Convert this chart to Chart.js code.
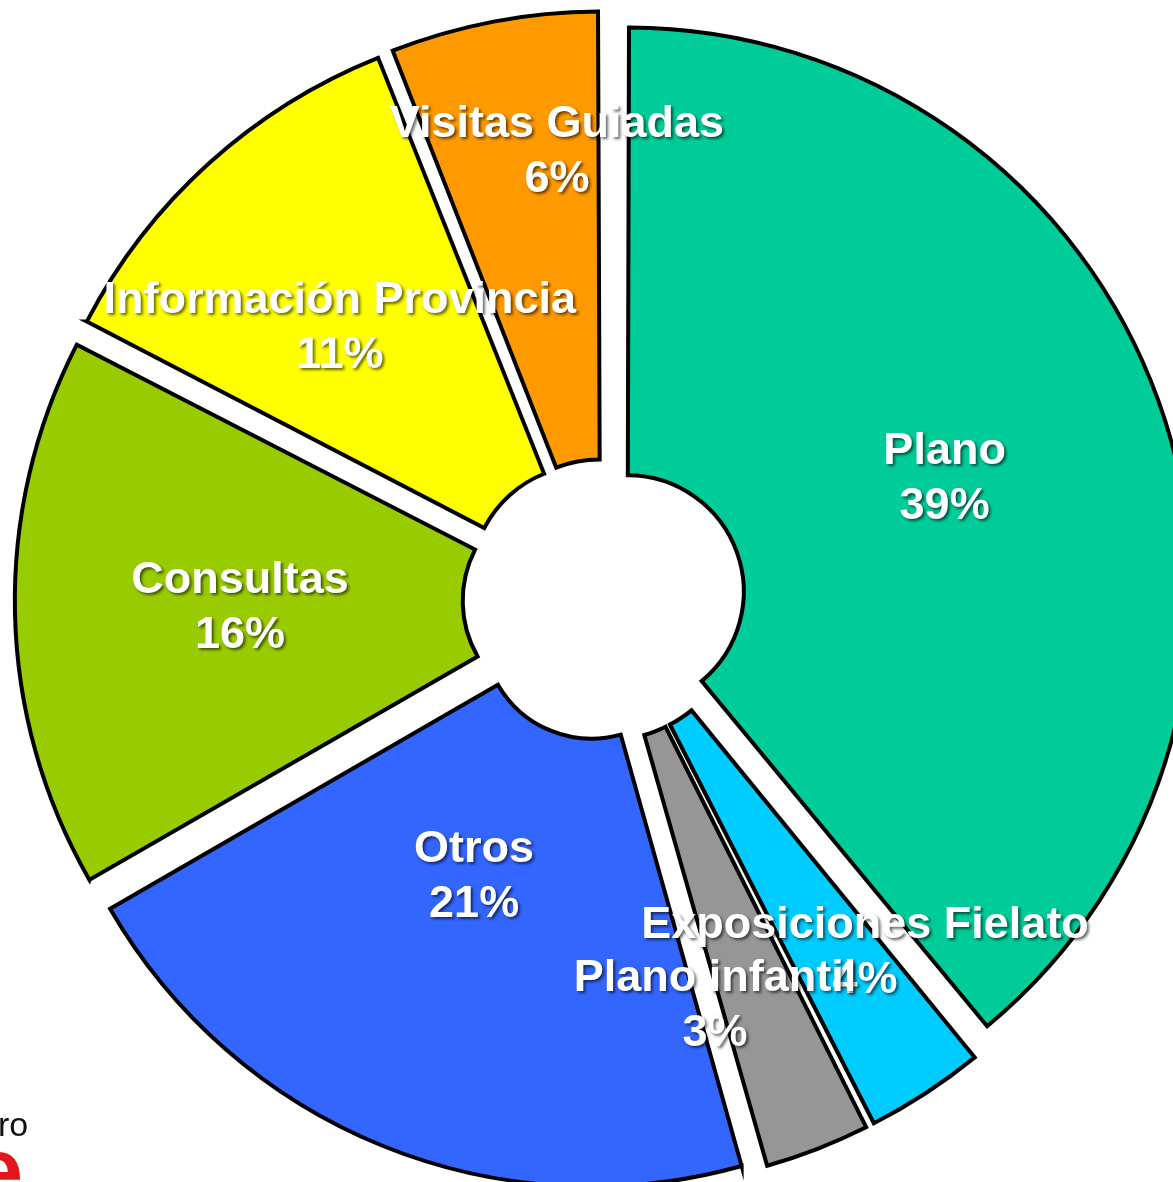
<!DOCTYPE html>
<html lang="es">
<head>
<meta charset="utf-8">
<title>Consultas por tipo</title>
<script src="https://cdn.jsdelivr.net/npm/chart.js@4.4.1/dist/chart.umd.min.js"></script>
<style>
    html, body { margin: 0; padding: 0; background: #fff; overflow: hidden; width: 1173px; height: 1182px; }
    #wrap { position: absolute; left: 0; top: 0; width: 1208px; height: 1200px; }
    .logo-small { position: absolute; left: -2px; top: 1105px; font: 34px "Liberation Sans", Arial, sans-serif; color: #111; }
    .logo-big { position: absolute; left: -28px; top: 1118px; font: bold 92px "Liberation Sans", Arial, sans-serif; color: #e3161e; }
</style>
</head>
<body>
<div id="wrap"><canvas id="tiposChart"></canvas></div>
<div class="logo-small">ro</div>
<div class="logo-big">e</div>
<script>
// datos (porcentaje de consultas)
const categorias = ['Plano', 'Exposiciones Fielato', 'Plano infantil', 'Otros', 'Consultas', 'Información Provincia', 'Visitas Guiadas'];
const valores = [39, 3.5, 3.1, 21, 15.9, 11.4, 6];
const colores = ['#00cc99', '#00ccff', '#969696', '#3366ff', '#99cc00', '#ffff00', '#ff9900'];

// separación de cada sector (Chart.js desplaza offset/4 px y además agranda el radio)
const separacion = [100, 76, 75, 132, 118, 101, 83];
// ajuste de posición de cada etiqueta respecto al centro del sector (px)
const ajusteEtiquetas = [[29, -10], [80, 75], [-9, 97], [-5, -30], [-33, 0], [-42, -27], [15, -123]];

document.addEventListener("DOMContentLoaded", function() {

    const total = valores.reduce((a, b) => a + b, 0);

    // plugin sencillo para escribir nombre y porcentaje dentro de cada sector
    const etiquetasPlugin = {
        id: 'etiquetas',
        afterDatasetsDraw(chart) {
            const ctx = chart.ctx;
            const meta = chart.getDatasetMeta(0);
            ctx.save();
            ctx.font = 'bold 45px "Liberation Sans", Arial, sans-serif';
            ctx.textAlign = 'center';
            ctx.textBaseline = 'middle';
            ctx.fillStyle = '#ffffff';
            ctx.shadowColor = 'rgba(0, 0, 0, 0.6)';
            ctx.shadowOffsetX = 2;
            ctx.shadowOffsetY = 2;
            ctx.shadowBlur = 3;
            meta.data.forEach((arc, i) => {
                const a = arc.getProps(['x', 'y', 'startAngle', 'endAngle', 'innerRadius', 'outerRadius']);
                const mid = (a.startAngle + a.endAngle) / 2;
                const r = (a.innerRadius + a.outerRadius) / 2;
                const x = a.x + Math.cos(mid) * r + ajusteEtiquetas[i][0];
                const y = a.y + Math.sin(mid) * r + ajusteEtiquetas[i][1];
                const pct = Math.round(valores[i] / total * 100) + '%';
                ctx.fillText(categorias[i], x, y - 27);
                ctx.fillText(pct, x, y + 28);
            });
            ctx.restore();
        }
    };

    const ctx1 = document.getElementById('tiposChart').getContext('2d');
    new Chart(ctx1, {
        type: 'doughnut',
        data: {
            labels: categorias,
            datasets: [{
                data: valores,
                backgroundColor: colores,
                borderColor: '#000000',
                borderWidth: 4,
                borderJoinStyle: 'miter',
                offset: separacion,
                hoverOffset: 0
            }]
        },
        options: {
            responsive: true,
            maintainAspectRatio: false,
            animation: false,
            events: [],
            radius: 555,
            cutout: '19.3%',
            layout: { padding: 0 },
            plugins: {
                legend: { display: false },
                tooltip: { enabled: false },
                title: { display: false }
            }
        },
        plugins: [etiquetasPlugin]
    });
});
</script>
</body>
</html>
